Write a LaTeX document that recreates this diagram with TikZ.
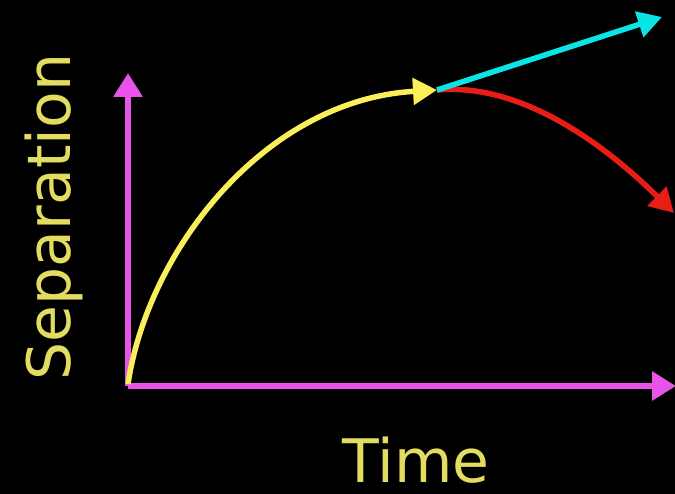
\documentclass[tikz,border=0pt]{standalone}
\usepackage{fontspec}
\setmainfont{DejaVu Sans}
\usetikzlibrary{arrows.meta}
\definecolor{axmag}{RGB}{232,84,232}
\definecolor{curveyel}{RGB}{250,238,90}
\definecolor{txtyel}{RGB}{226,220,96}
\definecolor{cyanln}{RGB}{10,228,228}
\definecolor{redln}{RGB}{232,30,22}
\tikzset{
  axis/.style={draw=axmag, line width=6pt, -{Triangle[length=24pt,width=28pt]}},
  curv/.style={line width=5.5pt, -{Triangle[length=24pt,width=26pt]}},
  lbl/.style={text=txtyel, font=\fontsize{60}{62}\selectfont, inner sep=0pt}
}
\begin{document}
\begin{tikzpicture}[x=1pt,y=-1pt]
\fill[black] (0,0) rectangle (675,494);
\useasboundingbox (0,0) rectangle (675,494);
\coordinate (O) at (128,386);
\coordinate (ytip) at (128,73);
\coordinate (xtip) at (676,386);
\coordinate (P) at (437,90);
\coordinate (ctip) at (662,17);
\coordinate (rtip) at (674,213);
\draw[axis] (O) -- (ytip);
\draw[axis] (O) -- (xtip);
\draw[curv, draw=redln] (P) .. controls (525,82) and (610,150) .. (rtip);
\draw[curv, draw=cyanln] (P) -- (ctip);
\draw[curv, draw=curveyel] (128,384) .. controls (148,250) and (265,100) .. (P);
\node[lbl, rotate=90, anchor=base] (sep) at (70,217) {Separation};
\node[lbl, anchor=base] (time) at (416,482) {Time};
\end{tikzpicture}
\end{document}
